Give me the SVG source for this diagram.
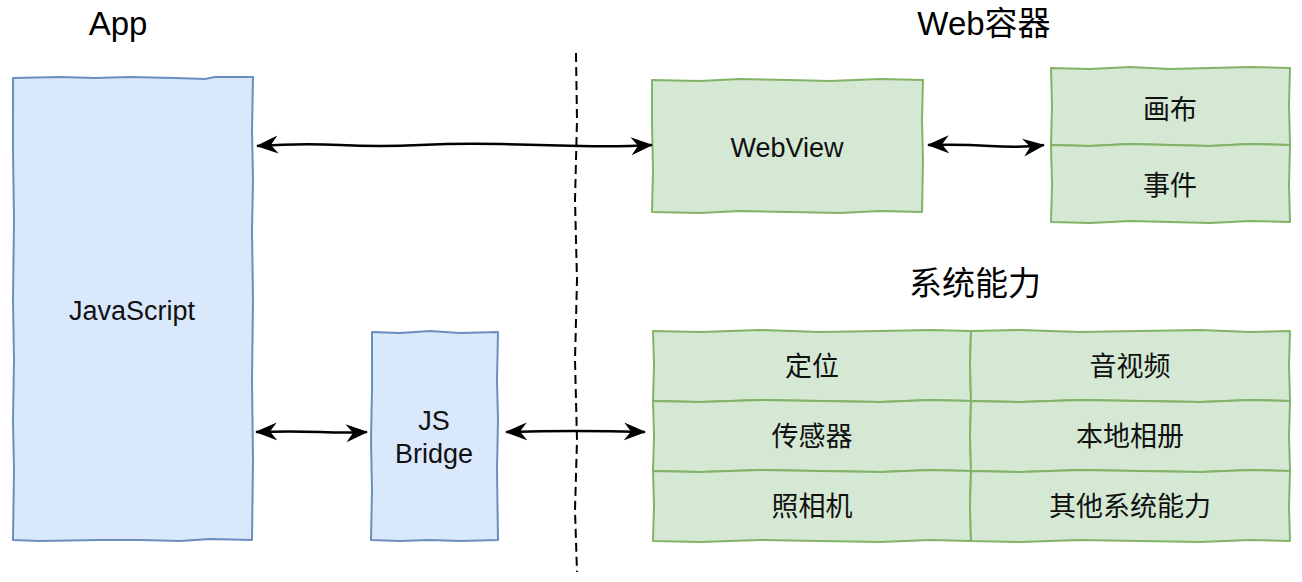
<svg xmlns="http://www.w3.org/2000/svg" width="1302" height="582" viewBox="0 0 1302 582">
<defs>
<style>
.blue{fill:#dae8fc;stroke:#6c8ebf;stroke-width:2;stroke-linejoin:round}
.green{fill:#d5e8d4;stroke:#82b366;stroke-width:2;stroke-linejoin:round}
.t{font-family:"Liberation Sans","Noto Sans CJK SC",sans-serif;font-size:27px;fill:#111;text-anchor:middle}
.title{font-size:33px;fill:#000}
.conn{stroke:#000;stroke-width:2.5;fill:none}
.sep{stroke:#000;stroke-width:2;fill:none;stroke-dasharray:9 5}
</style>
<marker id="ah" viewBox="0 0 22 20" refX="21" refY="10" markerWidth="22" markerHeight="20" markerUnits="userSpaceOnUse" orient="auto-start-reverse">
<path d="M0,1 L22,10 L0,19 L7,10 Z" fill="#000" stroke="none"/>
</marker>
</defs>
<rect width="1302" height="582" fill="#fff"/>

<g id="titles">
<text class="t title" x="118" y="35">App</text>
<text class="t title" x="984" y="35">Web容器</text>
<text class="t title" x="975" y="295">系统能力</text>
</g>

<g id="separator">
<path class="sep" d="M576,53 L577,120 L575,200 L577,280 L575,360 L577,440 L575,510 L577,572"/>
</g>

<g id="javascript">
<path class="blue" d="M13,78 L60,77 L95,78 L130,77 L175,78 L205,79 L215,77 L253,77 L252,130 L253,180 L252,230 L253,300 L252,380 L253,460 L252,540 L210,539 L180,541 L140,540 L100,540 L40,541 L13,540 L14,470 L13,420 L14,360 L13,300 L14,220 L13,150 Z"/>
<text class="t" x="132" y="320">JavaScript</text>
</g>

<g id="jsbridge">
<path class="blue" d="M372,332 L400,333 L430,331 L460,333 L498,332 L497,380 L498,420 L497,470 L498,540 L460,541 L430,540 L400,541 L371,540 L372,490 L371,440 L372,390 Z"/>
<text class="t" x="434" y="430">JS</text>
<text class="t" x="434" y="463">Bridge</text>
</g>

<g id="webview">
<path class="green" d="M652,80 L700,81 L740,79 L790,80 L830,81 L880,79 L923,80 L922,120 L923,160 L922,212 L880,211 L840,213 L790,212 L740,211 L700,213 L652,212 L653,170 L652,125 Z"/>
<text class="t" x="787" y="157">WebView</text>
</g>

<g id="webcontainer">
<g id="canvas">
<path class="green" d="M1051,68 L1090,69 L1130,67 L1170,69 L1210,68 L1250,67 L1290,68 L1289,105 L1290,145 L1250,144 L1210,146 L1170,145 L1130,144 L1090,146 L1051,145 L1052,105 Z"/>
<text class="t" x="1170" y="119">画布</text>
</g>
<g id="event">
<path class="green" d="M1051,145 L1090,146 L1130,144 L1170,145 L1210,146 L1250,144 L1290,145 L1289,185 L1290,222 L1250,221 L1210,223 L1170,222 L1130,221 L1090,223 L1051,222 L1052,185 Z"/>
<text class="t" x="1170" y="195">事件</text>
</g>
</g>

<g id="system">
<g id="cell-location">
<path class="green" d="M653,331 L700,332 L760,330 L820,332 L880,331 L930,330 L971,331 L970,365 L971,401 L930,400 L880,402 L820,401 L760,400 L700,402 L653,401 L654,365 Z"/>
<text class="t" x="812" y="376">定位</text>
</g>
<g id="cell-av">
<path class="green" d="M971,331 L1020,330 L1080,332 L1140,331 L1200,330 L1250,332 L1290,331 L1289,365 L1290,401 L1250,400 L1200,402 L1140,401 L1080,400 L1020,402 L971,401 L970,365 Z"/>
<text class="t" x="1130" y="376">音视频</text>
</g>
<g id="cell-sensor">
<path class="green" d="M653,401 L700,402 L760,400 L820,401 L880,402 L930,400 L971,401 L970,436 L971,471 L930,470 L880,472 L820,471 L760,470 L700,472 L653,471 L654,436 Z"/>
<text class="t" x="812" y="446">传感器</text>
</g>
<g id="cell-album">
<path class="green" d="M971,401 L1020,402 L1080,400 L1140,401 L1200,402 L1250,400 L1290,401 L1289,436 L1290,471 L1250,470 L1200,472 L1140,471 L1080,470 L1020,472 L971,471 L970,436 Z"/>
<text class="t" x="1130" y="446">本地相册</text>
</g>
<g id="cell-camera">
<path class="green" d="M653,471 L700,472 L760,470 L820,471 L880,472 L930,470 L971,471 L970,506 L971,541 L930,540 L880,542 L820,541 L760,540 L700,542 L653,541 L654,506 Z"/>
<text class="t" x="812" y="516">照相机</text>
</g>
<g id="cell-other">
<path class="green" d="M971,471 L1020,472 L1080,470 L1140,471 L1200,472 L1250,470 L1290,471 L1289,506 L1290,541 L1250,540 L1200,542 L1140,541 L1080,540 L1020,542 L971,541 L970,506 Z"/>
<text class="t" x="1130" y="516">其他系统能力</text>
</g>
</g>

<g id="connectors">
<path class="conn" marker-start="url(#ah)" marker-end="url(#ah)" d="M257,146 Q300,143 340,145 T420,145 T500,144 T580,146 T652,145"/>
<path class="conn" marker-start="url(#ah)" marker-end="url(#ah)" d="M928,145 Q960,144 990,146 T1044,145"/>
<path class="conn" marker-start="url(#ah)" marker-end="url(#ah)" d="M256,432 Q290,431 320,432 T367,432"/>
<path class="conn" marker-start="url(#ah)" marker-end="url(#ah)" d="M506,432 Q540,431 575,431 T645,432"/>
</g>
</svg>
